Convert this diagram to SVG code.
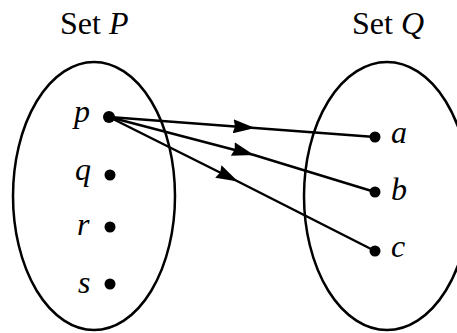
<svg xmlns="http://www.w3.org/2000/svg" width="457" height="333" viewBox="0 0 457 333">
<style>
.ell{fill:none;stroke:#000;stroke-width:2.5}
.t{font-family:"Liberation Serif","Times New Roman",serif;font-size:32px;fill:#000}
.i{font-style:italic}
.dot{fill:#000}
.con{fill:none;stroke:#000;stroke-width:2.5;marker-mid:url(#ah)}
</style>
<defs>
<marker id="ah" viewBox="0 0 22 14" refX="22" refY="7" markerWidth="22" markerHeight="14" markerUnits="userSpaceOnUse" orient="auto">
<path d="M0,0 L22,7 L0,14 L2,7 Z" fill="#000"/>
</marker>
</defs>
<rect width="457" height="333" fill="#fff"/>
<g id="setP">
<text class="t" x="60" y="34">Set <tspan class="i">P</tspan></text>
<ellipse class="ell" cx="94" cy="196" rx="81" ry="134"/>
</g>
<g id="setQ">
<text class="t" x="352" y="34">Set <tspan class="i">Q</tspan></text>
<ellipse class="ell" cx="387" cy="196" rx="83" ry="134"/>
</g>
<g id="p"><text class="t i" x="74" y="122">p</text><circle class="dot" cx="109" cy="117" r="6"/></g>
<g id="q"><text class="t i" x="75" y="180">q</text><circle class="dot" cx="110" cy="175" r="5.5"/></g>
<g id="r"><text class="t i" x="77" y="235">r</text><circle class="dot" cx="110" cy="227" r="5.5"/></g>
<g id="s"><text class="t i" x="78" y="293">s</text><circle class="dot" cx="110" cy="284" r="5.5"/></g>
<g id="a"><circle class="dot" cx="375" cy="137" r="5.5"/><text class="t i" x="391" y="143">a</text></g>
<g id="b"><circle class="dot" cx="375" cy="192" r="5.5"/><text class="t i" x="391" y="200">b</text></g>
<g id="c"><circle class="dot" cx="375" cy="251" r="5.5"/><text class="t i" x="391" y="257">c</text></g>
<g id="connectors">
<path class="con" d="M109,117 L255,128 L375,137"/>
<path class="con" d="M109,117 L254,155 L375,192"/>
<path class="con" d="M109,117 L238,181.5 L375,251"/>
</g>
</svg>
